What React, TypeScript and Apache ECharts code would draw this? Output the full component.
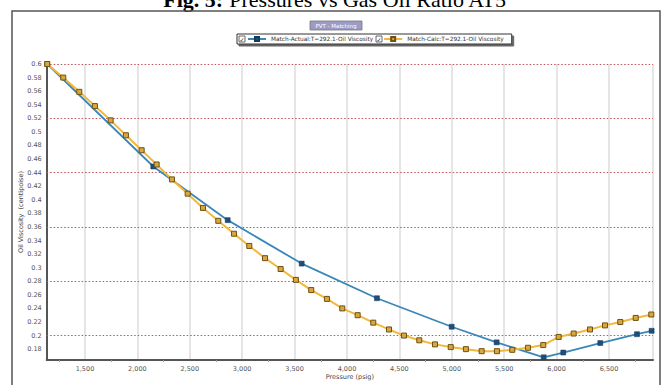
import React, { useEffect, useRef } from "react";
import * as echarts from "echarts";

const actualPressure = [1140, 2152, 2862, 3568, 4286, 4999, 5428, 5877, 6064, 6417, 6767, 6907];
const actualViscosity = [0.6, 0.449, 0.37, 0.306, 0.255, 0.213, 0.19, 0.168, 0.175, 0.189, 0.202, 0.207];

const calcPressure = [
  1140, 1293, 1446, 1595, 1745, 1891, 2041, 2184, 2330, 2480, 2626, 2772, 2922, 3068, 3218, 3367,
  3513, 3659, 3809, 3955, 4102, 4251, 4401, 4544, 4690, 4840, 4990, 5135, 5285, 5431, 5577, 5727,
  5873, 6020, 6163, 6319, 6462, 6608, 6755, 6904,
];
const calcViscosity = [
  0.6, 0.58, 0.559, 0.538, 0.517, 0.495, 0.473, 0.452, 0.43, 0.409, 0.388, 0.369, 0.35, 0.332, 0.314,
  0.298, 0.282, 0.267, 0.254, 0.24, 0.23, 0.219, 0.209, 0.2, 0.193, 0.187, 0.183, 0.18, 0.177, 0.177,
  0.179, 0.182, 0.186, 0.198, 0.203, 0.209, 0.215, 0.22, 0.226, 0.231,
];

const referenceLines = [0.2, 0.28, 0.36, 0.44, 0.52, 0.6];

const seriesNames = ["Match-Actual:T=292.1-Oil Viscosity", "Match-Calc:T=292.1-Oil Viscosity"];

export default function App() {
  const ref = useRef<HTMLDivElement>(null);
  useEffect(() => {
    if (!ref.current) return;
    const chart = echarts.init(ref.current, null, { renderer: "svg" });
    const sans = "DejaVu Sans";
    const checkbox = (x: number, y: number) => [
      { type: "rect", z: 200, shape: { x, y, width: 6, height: 6 }, style: { fill: "#fff", stroke: "#444", lineWidth: 0.8 } },
      { type: "text", z: 201, x: x + 3, y: y + 3.3, style: { text: "✓", fontSize: 6, fontFamily: sans, fill: "#222", align: "center", verticalAlign: "middle" } },
    ];
    chart.setOption({
      animation: false,
      backgroundColor: "#fff",
      title: {
        text: "{b|Fig. 5:} Pressures vs Gas Oil Ratio AT5",
        left: "center",
        top: -12,
        padding: 0,
        textStyle: {
          fontFamily: "Liberation Serif",
          fontSize: 22,
          fontWeight: "normal",
          color: "#000",
          rich: { b: { fontFamily: "Liberation Serif", fontSize: 22, fontWeight: "bold", color: "#000" } },
        },
      },
      legend: {
        data: seriesNames,
        left: 237,
        top: 34,
        padding: [2, 8, 2, 10],
        itemGap: 10,
        itemWidth: 18,
        itemHeight: 5,
        backgroundColor: "#fff",
        borderColor: "#333",
        borderWidth: 1,
        shadowColor: "rgba(0,0,0,0.6)",
        shadowOffsetX: 2,
        shadowOffsetY: 2,
        shadowBlur: 1,
        textStyle: { fontFamily: sans, fontSize: 5.8, color: "#333" },
        selectedMode: false,
      },
      grid: { left: 46.7, right: 17, top: 64, bottom: 22 },
      xAxis: {
        type: "value",
        min: 1135,
        max: 6920,
        splitNumber: 12,
        name: "Pressure (psig)",
        nameLocation: "middle",
        nameGap: 13,
        nameMoveOverlap: false,
        nameTextStyle: { fontFamily: sans, fontSize: 6.5, color: "#444" },
        axisLine: { lineStyle: { color: "#555", width: 2 } },
        axisTick: { show: false },
        minorTick: { show: true, splitNumber: 2, length: 2, lineStyle: { color: "#999" } },
        splitLine: { show: true, lineStyle: { color: "#dcdcdc", width: 1.5 } },
        axisLabel: { fontFamily: sans, fontSize: 6.5, color: "#555", margin: 5, showMinLabel: false, showMaxLabel: false },
      },
      yAxis: {
        type: "value",
        min: 0.164,
        max: 0.6,
        splitNumber: 22,
        name: "Oil Viscosity  (centipoise)",
        nameLocation: "middle",
        nameGap: 22,
        nameMoveOverlap: false,
        nameTextStyle: { fontFamily: sans, fontSize: 6.5, color: "#444" },
        axisLine: { show: true, lineStyle: { color: "#555", width: 2 } },
        axisTick: { show: false },
        splitLine: { show: false },
        axisLabel: { fontFamily: sans, fontSize: 6.5, color: "#555", margin: 5, showMinLabel: false },
      },
      graphic: [
        { type: "rect", z: 100, shape: { x: 12, y: 11, width: 648, height: 390 }, style: { fill: "none", stroke: "#555", lineWidth: 1.5 } },
        { type: "rect", z: 100, shape: { x: 310, y: 21, width: 52, height: 9 }, style: { fill: "#9b9bc6", stroke: "#777", lineWidth: 0.8 } },
        { type: "text", z: 101, x: 336, y: 25.7, style: { text: "PVT - Matching", fontFamily: sans, fontSize: 5.5, fill: "#fff", align: "center", verticalAlign: "middle" } },
        ...checkbox(239, 36),
        ...checkbox(376, 36),
      ],
      series: [
        {
          name: seriesNames[0],
          type: "line",
          clip: false,
          data: actualPressure.map((p, i) => [p, actualViscosity[i]]),
          symbol: "rect",
          symbolSize: 5,
          lineStyle: { color: "#3a87b8", width: 1.8 },
          itemStyle: { color: "#1d4f7a", borderColor: "#163a5c", borderWidth: 0.5 },
          z: 3,
        },
        {
          name: seriesNames[1],
          type: "line",
          clip: false,
          data: calcPressure.map((p, i) => [p, calcViscosity[i]]),
          symbol: "rect",
          symbolSize: 5,
          lineStyle: { color: "#f2b83a", width: 2 },
          itemStyle: { color: "#d9a640", borderColor: "#6e5212", borderWidth: 1 },
          z: 4,
          markLine: {
            silent: true,
            symbol: "none",
            label: { show: false },
            lineStyle: { color: "#c0505a", type: [1.5, 2], width: 1 },
            data: referenceLines.map((v) => ({ yAxis: v })),
            z: 1,
          },
        },
      ],
    });
    return () => chart.dispose();
  }, []);
  return (
    <div
      ref={ref}
      style={{ position: "fixed", left: 0, top: 0, width: 670, height: 385 }}
    />
  );
}
